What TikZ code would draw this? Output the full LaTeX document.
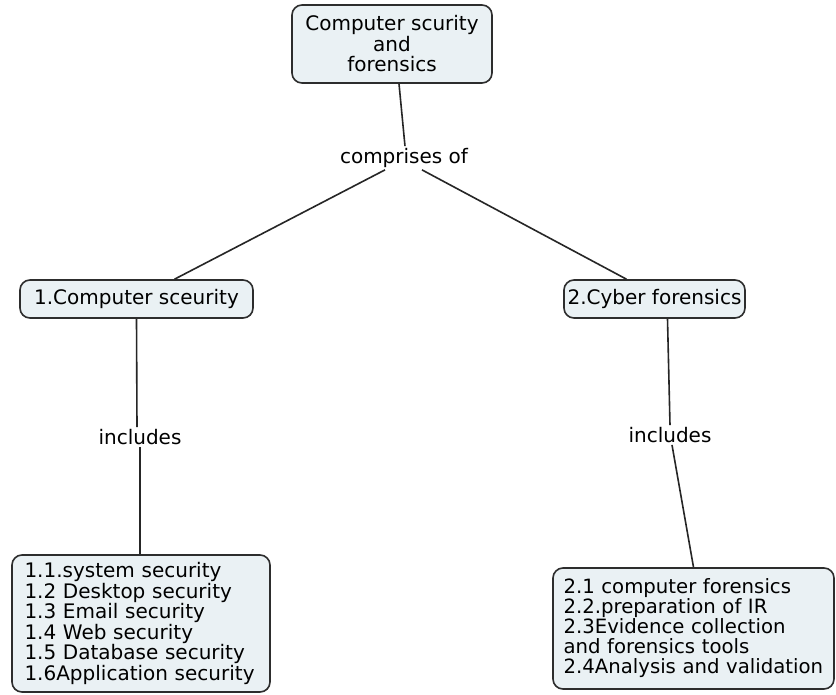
\documentclass[tikz,border=0pt]{standalone}
\usepackage{fontspec}
\setmainfont{DejaVu Sans}
\hyphenpenalty=10000
\exhyphenpenalty=10000
\definecolor{boxfill}{RGB}{234,241,244}
\definecolor{boxline}{RGB}{45,45,45}
\begin{document}
\begin{tikzpicture}[x=1pt,y=-1pt,
  concept/.style={draw=boxline,fill=boxfill,line width=1.6pt,rounded corners=10pt,
    font=\fontsize{20}{20.5}\selectfont,inner sep=0pt},
  linklabel/.style={font=\fontsize{20}{20.4}\selectfont,inner sep=2pt,fill=white},
  link/.style={line width=1.6pt,draw=black!85}]
\useasboundingbox[fill=white] (0,0) rectangle (836,694);
% nodes
\node[concept,minimum width=200pt,minimum height=78pt,align=center] (top) at (392,44)
  {Computer scurity\\and\\forensics};
\node[concept,minimum width=233pt,minimum height=38pt] (cs) at (136.5,299) {1.Computer sceurity};
\node[concept,minimum width=181pt,minimum height=38pt] (cf) at (654.5,299) {2.Cyber forensics};
\node[concept,minimum width=258pt,minimum height=137pt,align=left,text width=233pt] (csl) at (141,623.5)
  {1.1.system security\\1.2 Desktop security\\1.3 Email security\\1.4 Web security\\1.5 Database security\\1.6Application security};
\node[concept,minimum width=281pt,minimum height=121pt,align=left,text width=260pt,
  font=\fontsize{19.7}{20}\selectfont] (cfl) at (693.5,628.5)
  {2.1 computer forensics\\2.2.preparation of IR\\2.3Evidence collection\\and forensics tools\\2.4Analysis and validation};
\node[linklabel] (comp) at (404,158) {comprises of};
\node[linklabel] (inc1) at (140,437) {includes};
\node[linklabel] (inc2) at (670,435) {includes};
% connectors
\draw[link] ([xshift=7pt]top.south) -- ([xshift=1pt]comp.north);
\draw[link] ([xshift=-19pt]comp.south) -- ([xshift=38pt]cs.north);
\draw[link] ([xshift=18pt]comp.south) -- ([xshift=-28pt]cf.north);
\draw[link] (cs.south) -- ([xshift=-3pt]inc1.north);
\draw[link] (inc1.south) -- ([xshift=-1pt]csl.north);
\draw[link] ([xshift=13pt]cf.south) -- (inc2.north);
\draw[link] ([xshift=2pt]inc2.south) -- (cfl.north);
\end{tikzpicture}
\end{document}
